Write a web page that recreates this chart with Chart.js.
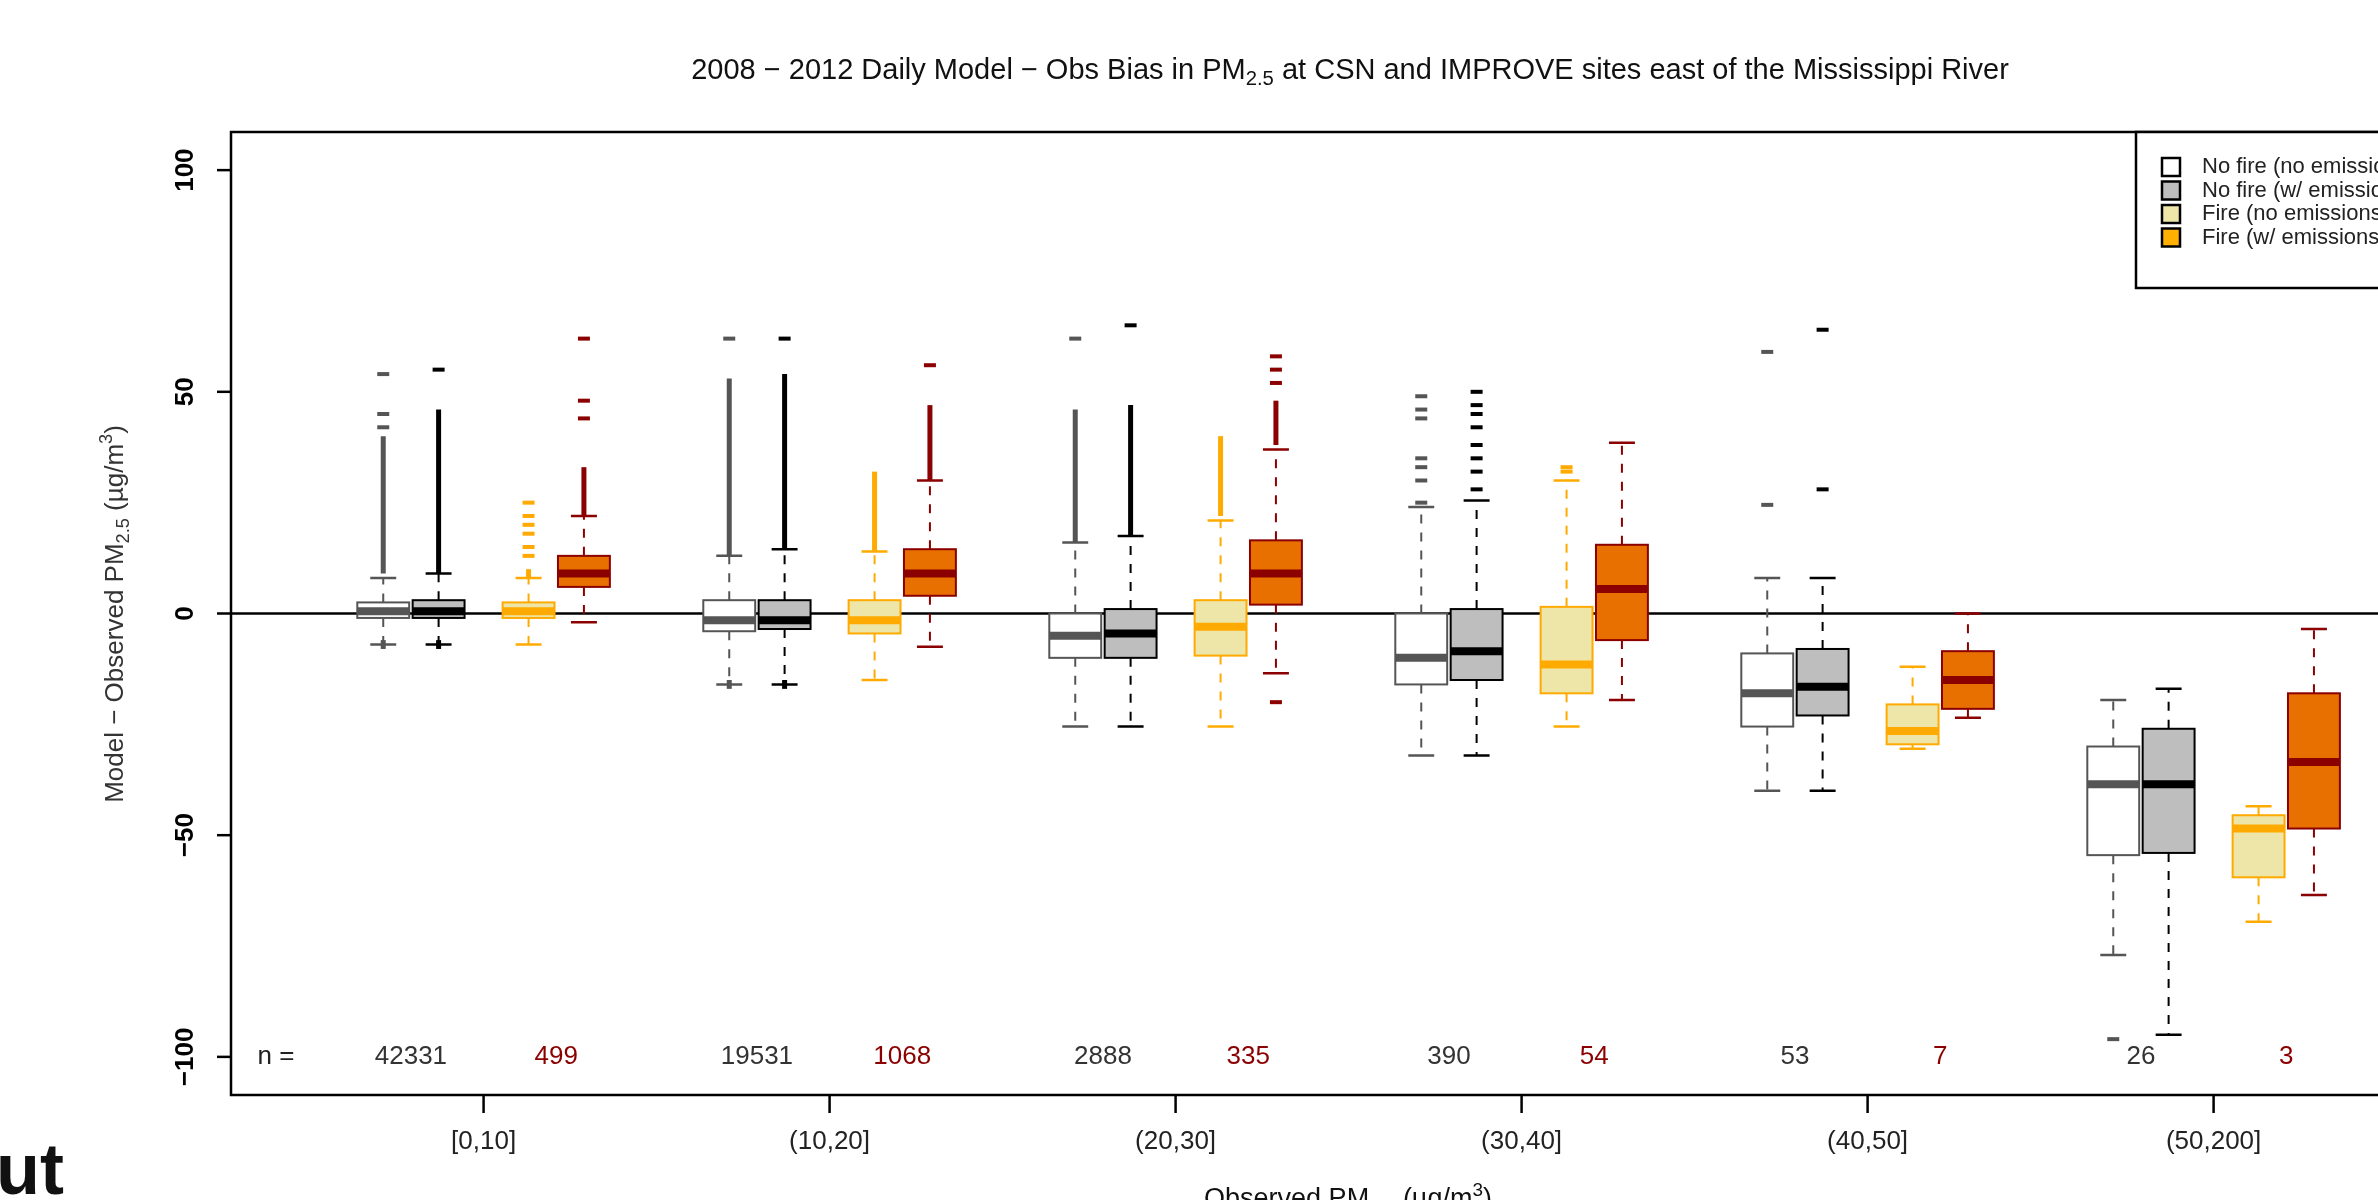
<!DOCTYPE html>
<html>
<head>
<meta charset="UTF-8">
<script src="https://cdn.jsdelivr.net/npm/chart.js"></script>
<style>
  html, body { margin: 0; padding: 0; background: white; overflow: hidden; width: 2378px; height: 1200px; }
  #wrap { position: absolute; left: 0; top: 0; width: 2700px; height: 1200px; }
  #cut { position: absolute; left: -4px; top: 1128px; font: bold 72px 'Liberation Sans', Arial, sans-serif; color: #111; }
</style>
</head>
<body>
<div id="wrap"><canvas id="c" width="2700" height="1200"></canvas></div>
<div id="cut">ut</div>
<script>
// bins of observed PM2.5
const bins = ['[0,10]', '(10,20]', '(20,30]', '(30,40]', '(40,50]', '(50,200]'];
const countsNoFire = [42331, 19531, 2888, 390, 53, 26];
const countsFire = [499, 1068, 335, 54, 7, 3];
const yTicks = [-100, -50, 0, 50, 100];

// box stats per bin: [lowWhisker, q1, median, q3, highWhisker]
const noFireNoEmis = [[-7, -1, 0.5, 2.5, 8], [-16, -4, -1.5, 3, 13], [-25.5, -10, -5, 0, 16], [-32, -16, -10, 0, 24], [-40, -25.5, -18, -9, 8], [-77, -54.5, -38.5, -30, -19.5]];
const noFireEmis = [[-7, -1, 0.5, 3, 9], [-16, -3.5, -1.5, 3, 14.5], [-25.5, -10, -4.5, 1, 17.5], [-32, -15, -8.5, 1, 25.5], [-40, -23, -16.5, -8, 8], [-95, -54, -38.5, -26, -17]];
const fireNoEmis = [[-7, -1, 0.5, 2.5, 8], [-15, -4.5, -1.5, 3, 14], [-25.5, -9.5, -3, 3, 21], [-25.5, -18, -11.5, 1.5, 30], [-30.5, -29.5, -26.5, -20.5, -12], [-69.5, -59.5, -48.5, -45.5, -43.5]];
const fireEmis = [[-2, 6, 9, 13, 22], [-7.5, 4, 9, 14.5, 30], [-13.5, 2, 9, 16.5, 37], [-19.5, -6, 5.5, 15.5, 38.5], [-23.5, -21.5, -15, -8.5, 0], [-63.5, -48.5, -33.5, -18, -3.5]];

// outliers per bin: dense runs [from, to] and single points
const runsNoFireNoEmis = [[[9, 40], [-8, -6]], [[13, 53], [-17, -15]], [[16, 46]], [], [], []];
const ptsNoFireNoEmis = [[42, 45, 54], [62], [62], [25, 30, 33, 35, 44, 46, 49], [24.5, 59], [-96]];
const runsNoFireEmis = [[[9, 46], [-8, -6]], [[14.5, 54], [-17, -15]], [[17.5, 47]], [], [], []];
const ptsNoFireEmis = [[55], [62], [65], [28, 32, 35, 38, 42, 45, 47, 50], [28, 64], []];
const runsFireNoEmis = [[[8, 10]], [[14, 32]], [[22, 40]], [], [], []];
const ptsFireNoEmis = [[13, 15, 18, 20, 22, 25], [], [], [32, 33], [], []];
const runsFireEmis = [[[22, 33]], [[30, 47]], [[38, 48]], [], [], []];
const ptsFireEmis = [[44, 48, 62], [56], [52, 55, 58, -20], [], [], []];

const groups = [
  { stats: noFireNoEmis, runs: runsNoFireNoEmis, pts: ptsNoFireNoEmis, off: -0.29, fill: '#ffffff', line: '#555555', med: '#555555', out: '#555555', label: 'No fire (no emissions)' },
  { stats: noFireEmis, runs: runsNoFireEmis, pts: ptsNoFireEmis, off: -0.13, fill: '#bebebe', line: '#000000', med: '#000000', out: '#000000', label: 'No fire (w/ emissions)' },
  { stats: fireNoEmis, runs: runsFireNoEmis, pts: ptsFireNoEmis, off: 0.13, fill: '#eee6a8', line: '#ffaa00', med: '#ffaa00', out: '#ffaa00', label: 'Fire (no emissions)' },
  { stats: fireEmis, runs: runsFireEmis, pts: ptsFireEmis, off: 0.29, fill: '#e87000', line: '#8b0000', med: '#8b0000', out: '#8b0000', label: 'Fire (w/ emissions)' }
];
const legendFill = ['#ffffff', '#bebebe', '#eee6a8', '#ffb000'];
const boxW = 0.15;
const FONT = "'Liberation Sans', Arial, sans-serif";

// isolated outliers go through a scatter dataset each
const datasets = groups.map(g => ({
  data: g.pts.flatMap((arr, i) => arr.map(v => ({ x: i + 1 + g.off, y: v }))),
  pointStyle: 'line', pointRadius: 6, borderColor: g.out, borderWidth: 4, showLine: false
}));

const boxPlugin = {
  id: 'boxes',
  beforeDatasetsDraw(chart) {
    const { ctx, scales: { x, y }, chartArea: a } = chart;
    ctx.save();
    ctx.strokeStyle = '#000'; ctx.lineWidth = 2.5;
    ctx.beginPath(); ctx.moveTo(a.left, y.getPixelForValue(0)); ctx.lineTo(a.right, y.getPixelForValue(0)); ctx.stroke();
    groups.forEach(g => {
      g.stats.forEach((s, i) => {
        const cx = x.getPixelForValue(i + 1 + g.off);
        const hw = (x.getPixelForValue(boxW) - x.getPixelForValue(0)) / 2;
        const [lo, q1, md, q3, hi] = s.map(v => y.getPixelForValue(v));
        // dense outlier runs
        ctx.strokeStyle = g.out; ctx.lineWidth = 5;
        g.runs[i].forEach(r => {
          ctx.beginPath(); ctx.moveTo(cx, y.getPixelForValue(r[0])); ctx.lineTo(cx, y.getPixelForValue(r[1])); ctx.stroke();
        });
        // whiskers
        ctx.strokeStyle = g.line; ctx.lineWidth = 2; ctx.setLineDash([9, 9]);
        ctx.beginPath(); ctx.moveTo(cx, q3); ctx.lineTo(cx, hi); ctx.moveTo(cx, q1); ctx.lineTo(cx, lo); ctx.stroke();
        ctx.setLineDash([]); ctx.lineWidth = 2.5;
        ctx.beginPath(); ctx.moveTo(cx - hw / 2, hi); ctx.lineTo(cx + hw / 2, hi); ctx.moveTo(cx - hw / 2, lo); ctx.lineTo(cx + hw / 2, lo); ctx.stroke();
        // box
        ctx.lineWidth = 2;
        ctx.fillStyle = g.fill; ctx.fillRect(cx - hw, q3, 2 * hw, q1 - q3);
        ctx.strokeRect(cx - hw, q3, 2 * hw, q1 - q3);
        ctx.strokeStyle = g.med; ctx.lineWidth = 8;
        ctx.beginPath(); ctx.moveTo(cx - hw, md); ctx.lineTo(cx + hw, md); ctx.stroke();
      });
    });
    ctx.restore();
  },
  afterDraw(chart) {
    const { ctx, scales: { x, y }, chartArea: a } = chart;
    ctx.save();
    ctx.strokeStyle = '#000'; ctx.lineWidth = 2.5;
    ctx.strokeRect(a.left, a.top, a.right - a.left, a.bottom - a.top);
    // y axis
    ctx.fillStyle = '#000'; ctx.font = 'bold 26px ' + FONT; ctx.textAlign = 'center'; ctx.textBaseline = 'middle';
    yTicks.forEach(t => {
      const py = y.getPixelForValue(t);
      ctx.beginPath(); ctx.moveTo(a.left, py); ctx.lineTo(a.left - 14, py); ctx.stroke();
      ctx.save(); ctx.translate(a.left - 45, py); ctx.rotate(-Math.PI / 2); ctx.fillText(String(t).replace('-', '\u2212'), 0, 0); ctx.restore();
    });
    // x axis
    ctx.font = '26px ' + FONT; ctx.fillStyle = '#222';
    bins.forEach((b, i) => {
      const px = x.getPixelForValue(i + 1);
      ctx.beginPath(); ctx.moveTo(px, a.bottom); ctx.lineTo(px, a.bottom + 18); ctx.stroke();
      ctx.fillText(b, px, a.bottom + 47);
      const ny = y.getPixelForValue(-100);
      ctx.fillStyle = '#333'; ctx.fillText(countsNoFire[i], x.getPixelForValue(i + 1 - 0.21), ny);
      ctx.fillStyle = '#8b0000'; ctx.fillText(countsFire[i], x.getPixelForValue(i + 1 + 0.21), ny);
      ctx.fillStyle = '#222';
    });
    ctx.fillText('n =', x.getPixelForValue(0.4), y.getPixelForValue(-100));
    // subscript helper
    const sub = (parts, cx, cy, size) => {
      let w = 0;
      parts.forEach(p => { ctx.font = (p[1] ? size * 0.7 : size) + 'px ' + FONT; w += ctx.measureText(p[0]).width; });
      let px = cx - w / 2; ctx.textAlign = 'left';
      parts.forEach(p => {
        ctx.font = (p[1] ? size * 0.7 : size) + 'px ' + FONT;
        ctx.fillText(p[0], px, cy + (p[1] === 1 ? size * 0.3 : p[1] === 2 ? -size * 0.35 : 0));
        px += ctx.measureText(p[0]).width;
      });
      ctx.textAlign = 'center';
    };
    ctx.fillStyle = '#111';
    sub([['2008 \u2212 2012 Daily Model \u2212 Obs Bias in PM', 0], ['2.5', 1], [' at CSN and IMPROVE sites east of the Mississippi River', 0]], 1350, 71, 29);
    sub([['Observed PM', 0], ['2.5', 1], [' (\u00b5g/m', 0], ['3', 2], [')', 0]], 1348, 1200, 27);
    ctx.save(); ctx.translate(116, 614); ctx.rotate(-Math.PI / 2); ctx.fillStyle = '#333';
    sub([['Model \u2212 Observed PM', 0], ['2.5', 1], [' (\u00b5g/m', 0], ['3', 2], [')', 0]], 0, 0, 26);
    ctx.restore();
    // legend
    ctx.strokeStyle = '#000'; ctx.lineWidth = 2.5; ctx.fillStyle = '#fff';
    ctx.fillRect(2136, 132, 500, 156); ctx.strokeRect(2136, 132, 500, 156);
    ctx.textAlign = 'left'; ctx.font = '22px ' + FONT;
    groups.forEach((g, k) => {
      const ly = 167 + k * 23.5;
      ctx.fillStyle = legendFill[k]; ctx.fillRect(2162, ly - 9, 18, 18);
      ctx.lineWidth = 2.5; ctx.strokeStyle = '#000'; ctx.strokeRect(2162, ly - 9, 18, 18);
      ctx.fillStyle = '#222'; ctx.fillText(g.label, 2202, ly);
    });
    ctx.restore();
  }
};

new Chart(document.getElementById('c'), {
  type: 'scatter',
  data: { datasets },
  options: {
    responsive: false, animation: false,
    layout: { padding: { left: 231, top: 132, right: 175, bottom: 105 } },
    plugins: { legend: { display: false }, tooltip: { enabled: false } },
    scales: {
      x: { type: 'linear', min: 0.27, max: 6.9, display: false },
      y: { type: 'linear', min: -108.6, max: 108.6, display: false }
    }
  },
  plugins: [boxPlugin]
});
</script>
</body>
</html>
